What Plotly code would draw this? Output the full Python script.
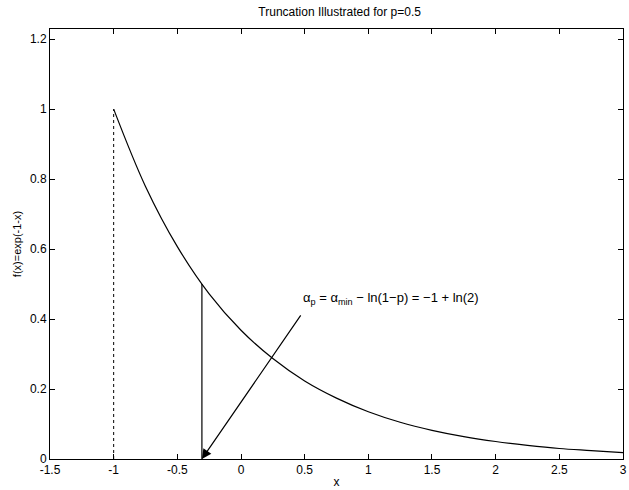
import plotly.graph_objects as go

# curve samples (f(x) = exp(-1-x))
x_curve = [-1.0, -0.75, -0.5, -0.25, 0.0, 0.25, 0.5, 0.75, 1.0, 1.25, 1.5, 1.75, 2.0, 2.25, 2.5, 2.75, 3.0]
y_curve = [1.000, 0.779, 0.607, 0.472, 0.368, 0.287, 0.223, 0.174, 0.135, 0.105, 0.082, 0.064, 0.050, 0.039, 0.030, 0.024, 0.018]

alpha_min = -1.0
alpha_p = -0.307          # -1 + ln(2)
f_alpha_p = 0.5

x_ticks = [-1.5, -1, -0.5, 0, 0.5, 1, 1.5, 2, 2.5, 3]
x_tick_labels = ["-1.5", "-1", "-0.5", "0", "0.5", "1", "1.5", "2", "2.5", "3"]
y_ticks = [0, 0.2, 0.4, 0.6, 0.8, 1, 1.2]
y_tick_labels = ["0", "0.2", "0.4", "0.6", "0.8", "1", "1.2"]

arrow_tail = (0.477, 0.415)
label_pos = (0.47, 0.46)

font = "Liberation Sans, Arial, sans-serif"

fig = go.Figure()
fig.add_trace(go.Scatter(x=x_curve, y=y_curve, mode="lines", line=dict(color="black", width=1.2, shape="spline"),
                         showlegend=False, hoverinfo="skip"))
fig.add_trace(go.Scatter(x=[alpha_min, alpha_min], y=[0, 1.0], mode="lines",
                         line=dict(color="black", width=1, dash="dot"), showlegend=False))
fig.add_trace(go.Scatter(x=[alpha_p, alpha_p], y=[0, f_alpha_p], mode="lines",
                         line=dict(color="black", width=1.2), showlegend=False))

fig.add_annotation(x=alpha_p, y=0, ax=arrow_tail[0], ay=arrow_tail[1], xref="x", yref="y",
                   axref="x", ayref="y", text="", showarrow=True, arrowhead=2, arrowsize=1.6,
                   arrowwidth=1.2, arrowcolor="black")
fig.add_annotation(x=label_pos[0], y=label_pos[1], xref="x", yref="y", showarrow=False,
                   xanchor="left", yanchor="middle",
                   text="α<sub>p</sub> = α<sub>min</sub> − ln(1−p) = −1 + ln(2)",
                   font=dict(family=font, size=13, color="black"))

axis_common = dict(showline=True, linecolor="black", linewidth=1, mirror="ticks", ticks="inside",
                   ticklen=5, tickcolor="black", showgrid=False, zeroline=False,
                   ticklabeloverflow="allow",
                   tickfont=dict(family=font, size=12, color="black"))

fig.update_layout(
    width=629, height=490,
    margin=dict(l=50, r=2, t=29, b=31),
    paper_bgcolor="white", plot_bgcolor="white",
    title=dict(text="Truncation Illustrated for p=0.5", x=0.54, xanchor="center", y=0.975, yanchor="middle",
               font=dict(family=font, size=12, color="black")),
    xaxis=dict(range=[-1.5, 3.0001], tickvals=x_ticks, ticktext=x_tick_labels,
               title=dict(text="x", font=dict(family=font, size=12, color="black"), standoff=1), **axis_common),
    yaxis=dict(range=[0, 1.229], tickvals=y_ticks, ticktext=y_tick_labels,
               title=dict(text="f(x)=exp(-1-x)", font=dict(family=font, size=11, color="black"), standoff=6),
               **axis_common),
)

fig.write_html("out.html")
